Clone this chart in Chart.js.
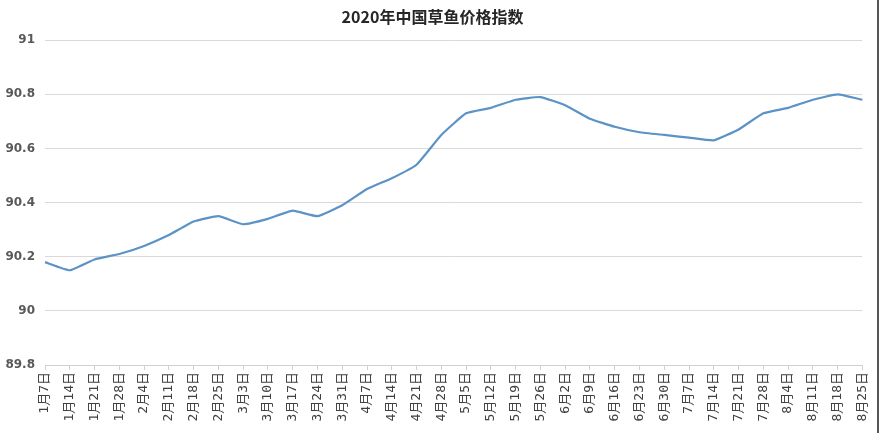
<!DOCTYPE html>
<html>
<head>
<meta charset="utf-8">
<script src="https://cdn.jsdelivr.net/npm/chart.js@4"></script>
<style>
  html, body { margin: 0; padding: 0; background: #fff; }
  #wrap { width: 880px; height: 433px; position: relative; }
  #wrap:after { content: ''; position: absolute; right: 1px; top: 0; width: 2px; height: 433px; background: #555; }
</style>
</head>
<body>
<div id="wrap"><canvas id="chart" width="880" height="433"></canvas></div>
<script>
// 日期
const dates = [
  "1月7日", "1月14日", "1月21日", "1月28日", "2月4日", "2月11日", "2月18日", "2月25日",
  "3月3日", "3月10日", "3月17日", "3月24日", "3月31日", "4月7日", "4月14日", "4月21日",
  "4月28日", "5月5日", "5月12日", "5月19日", "5月26日", "6月2日", "6月9日", "6月16日",
  "6月23日", "6月30日", "7月7日", "7月14日", "7月21日", "7月28日", "8月4日", "8月11日",
  "8月18日", "8月25日"
];

// 草鱼价格指数
const priceIndex = [
  90.18, 90.15, 90.19, 90.21, 90.24, 90.28, 90.33, 90.35,
  90.32, 90.34, 90.37, 90.35, 90.39, 90.45, 90.49, 90.54,
  90.65, 90.73, 90.75, 90.78, 90.79, 90.76, 90.71, 90.68,
  90.66, 90.65, 90.64, 90.63, 90.67, 90.73, 90.75, 90.78,
  90.80, 90.78
];

const yTicks = [89.8, 90, 90.2, 90.4, 90.6, 90.8, 91];

const ctx = document.getElementById("chart").getContext("2d");
new Chart(ctx, {
  type: "line",
  data: {
    labels: dates,
    datasets: [{
      data: priceIndex,
      borderColor: "#5b93c7",
      borderWidth: 2.2,
      pointRadius: 0,
      tension: 0.12,
      fill: false
    }]
  },
  options: {
    responsive: false,
    animation: false,
    layout: { padding: { left: 0, right: 15, top: 0, bottom: 0 } },
    plugins: {
      legend: { display: false },
      tooltip: { enabled: false },
      title: {
        display: true,
        text: "2020年中国草鱼价格指数",
        color: "#262626",
        font: { family: "'Noto Sans CJK SC', 'Noto Sans', sans-serif", size: 16, weight: "bold" },
        padding: { top: 7, bottom: 14 }
      }
    },
    scales: {
      x: {
        offset: false,
        grid: { drawOnChartArea: false, drawTicks: true, tickLength: 5, color: "#d0d0d0" },
        border: { display: true, color: "#d0d0d0" },
        ticks: {
          autoSkip: false,
          minRotation: 90,
          maxRotation: 90,
          padding: 2,
          color: "#404040",
          font: { family: "'DejaVu Sans Mono', 'Noto Sans CJK SC', sans-serif", size: 13 }
        },
        afterFit: (s) => { s.height = 68; }
      },
      y: {
        min: 89.8,
        max: 91,
        afterBuildTicks: (s) => { s.ticks = yTicks.map(v => ({ value: v })); },
        grid: { color: "#d9d9d9", drawTicks: false },
        border: { display: false },
        ticks: {
          padding: 10,
          color: "#595959",
          font: { family: "'DejaVu Sans', sans-serif", size: 12, weight: "bold" },
          callback: (v) => String(Number(v.toFixed(1)))
        },
        afterFit: (s) => { s.width = 45; }
      }
    }
  }
});
</script>
</body>
</html>
